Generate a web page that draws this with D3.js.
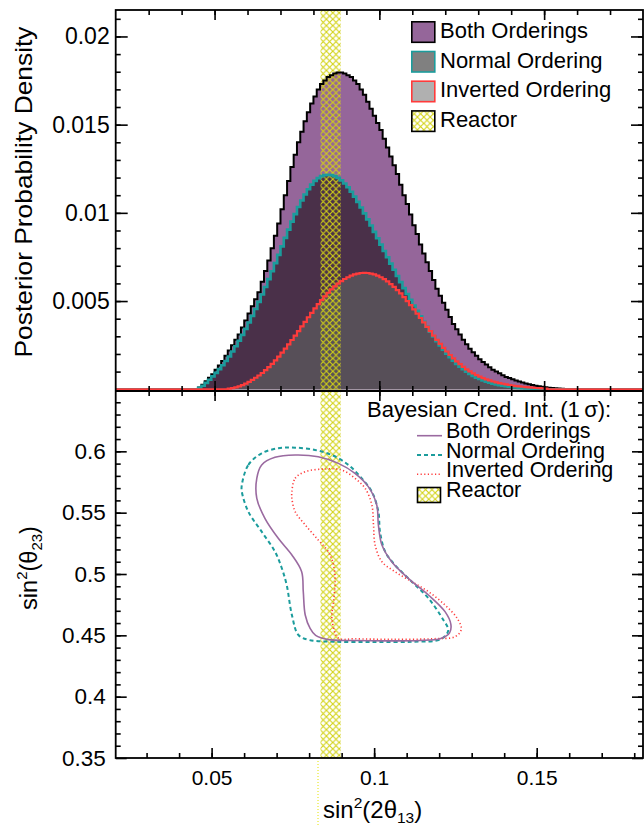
<!DOCTYPE html>
<html>
<head>
<meta charset="utf-8">
<script src="https://cdn.jsdelivr.net/npm/d3@7"></script>
<style>
  body { margin: 0; background: #fff; }
  svg { display: block; font-family: "Liberation Sans", Arial, Helvetica, sans-serif; }
</style>
</head>
<body>
<script>
// posterior density of sin^2(2theta13), bins of width 0.001 starting at 0.045
// values are in units of 1e-4
const binStart = 0.045,
  binWidth = 0.001;

const bothOrderings = [
  1, 2.5, 4.5, 6.5, 8.5, 11, 13.5, 16, 19, 22, 25, 28, 31, 35, 39, 43, 47, 51, 55, 61,
  67, 73, 80, 87, 94, 102, 110, 118, 126, 133, 140, 146, 152, 157, 162, 166, 170, 173, 175, 177,
  178, 179, 179.5, 179.5, 179, 178, 177, 175, 173, 170, 167, 163, 159, 155, 151, 147, 142, 137, 132, 127,
  122, 116, 110, 105, 99, 93, 88, 82, 77, 72, 67, 62, 57, 53, 49, 45, 41, 37, 34, 31,
  28, 25.5, 23, 21, 19, 17, 15.5, 14, 12.5, 11, 10, 9, 8, 7, 6.3, 5.6, 5, 4.4, 3.8, 3.3,
  2.8, 2.4, 2, 1.7, 1.4, 1.1, 0.9, 0.7, 0.5, 0.4, 0.3
];

const normalOrdering = [
  0.8, 2, 3.6, 5.4, 7.3, 9.3, 11.4, 13.6, 16, 18.6, 21.4, 24.4, 27.5, 30.8, 34.2, 37.8, 41.6, 45.5, 49.5, 53.7,
  58, 62.4, 66.9, 71.5, 76.2, 81, 85.8, 90.5, 95, 99.3, 103.3, 107, 110.4, 113.4, 116, 118.1, 119.7, 120.8, 121.4, 121.6,
  121.4, 120.8, 119.8, 118.4, 116.6, 114.5, 112, 109.2, 106.2, 103, 99.7, 96.3, 92.8, 89.2, 85.6, 82, 78.4, 74.8, 71.2, 67.7,
  64.2, 60.7, 57.3, 54, 50.7, 47.5, 44.4, 41.3, 38.3, 35.4, 32.6, 29.9, 27.3, 24.8, 22.4, 20.2, 18.1, 16.2, 14.4, 12.8,
  11.3, 9.9, 8.7, 7.6, 6.6, 5.8, 5, 4.3, 3.7, 3.2, 2.7, 2.3, 2, 1.7, 1.4, 1.2, 1, 0.8, 0.6, 0.5, 0.4
];

const invertedOrdering = [
  0, 0, 0, 0, 0, 0, 0, 0, 0, 0.3, 0.6, 1, 1.6, 2.3, 3.2, 4.2, 5.3, 6.5, 7.8, 9.2,
  10.8, 12.5, 14.4, 16.4, 18.5, 20.7, 23, 25.4, 27.9, 30.4, 33, 35.6, 38.2, 40.8, 43.3, 45.8, 48.2, 50.5, 52.7, 54.7,
  56.6, 58.3, 59.9, 61.3, 62.5, 63.5, 64.4, 65.1, 65.6, 65.9, 66, 65.9, 65.6, 65.1, 64.4, 63.5, 62.4, 61.1, 59.6, 58,
  56.2, 54.3, 52.2, 50, 47.7, 45.3, 42.9, 40.4, 37.9, 35.4, 32.9, 30.4, 28, 25.7, 23.5, 21.4, 19.4, 17.5, 15.8, 14.2,
  12.7, 11.3, 10.1, 9, 8, 7.1, 6.3, 5.6, 5, 4.4, 3.9, 3.5, 3.1, 2.7, 2.4, 2.1, 1.8, 1.6, 1.4, 1.2,
  1, 0.9, 0.7, 0.6, 0.5, 0.4
];

// 1 sigma credible regions, [sin^2(2theta13), sin^2(theta23)]
const bothContour = [
  [0.0639, 0.578], [0.0654, 0.5889], [0.0695, 0.5951], [0.0757, 0.597], [0.0828, 0.5956], [0.089, 0.5902],
  [0.0941, 0.5821], [0.0982, 0.5712], [0.1008, 0.5563], [0.1013, 0.54], [0.1024, 0.5236], [0.1054, 0.51],
  [0.1105, 0.4965], [0.1167, 0.4829], [0.1218, 0.4693], [0.1236, 0.459], [0.1232, 0.452], [0.1205, 0.4475],
  [0.114, 0.4458], [0.104, 0.4455], [0.094, 0.4458], [0.086, 0.4465], [0.082, 0.45], [0.0803, 0.4557],
  [0.0788, 0.4666], [0.0782, 0.4856], [0.0777, 0.5019], [0.0747, 0.5155], [0.0705, 0.5291], [0.0664, 0.5454],
  [0.0639, 0.5617]
];

const normalContour = [
  [0.0593, 0.5726], [0.0613, 0.5889], [0.0654, 0.5984], [0.0705, 0.6025], [0.0757, 0.603], [0.0818, 0.6011],
  [0.087, 0.597], [0.0921, 0.5889], [0.0962, 0.578], [0.0993, 0.5671], [0.1013, 0.5508], [0.1018, 0.5345],
  [0.1034, 0.5182], [0.1064, 0.5073], [0.1116, 0.4937], [0.1167, 0.4802], [0.1213, 0.4625], [0.1228, 0.454],
  [0.1205, 0.4468], [0.112, 0.4448], [0.1, 0.4445], [0.088, 0.4448], [0.08, 0.4462], [0.0767, 0.4503],
  [0.0747, 0.4666], [0.0731, 0.491], [0.0716, 0.5047], [0.0695, 0.5182], [0.0654, 0.5345], [0.0613, 0.5508],
  [0.0593, 0.5671]
];

const invertedContour = [
  [0.0747, 0.5671], [0.0757, 0.578], [0.0788, 0.5834], [0.0849, 0.5856], [0.09, 0.5848], [0.0941, 0.578],
  [0.0972, 0.5699], [0.0993, 0.5563], [0.0998, 0.54], [0.1003, 0.5236], [0.1024, 0.51], [0.1064, 0.5019],
  [0.1116, 0.4937], [0.1167, 0.4856], [0.1218, 0.4747], [0.1255, 0.464], [0.1268, 0.455], [0.125, 0.449],
  [0.118, 0.4472], [0.105, 0.4468], [0.094, 0.4472], [0.089, 0.4478], [0.087, 0.4639], [0.0875, 0.4774],
  [0.088, 0.4937], [0.0875, 0.5073], [0.0859, 0.5182], [0.0828, 0.5277], [0.0788, 0.54], [0.0757, 0.5508],
  [0.0747, 0.5617]
];

// reactor constraint on sin^2(2theta13)
const reactorBand = [0.0835, 0.0897];

const densityTicks = [0.005, 0.01, 0.015, 0.02];
const densityLabels = ["0.005", "0.01", "0.015", "0.02"];
const theta23Ticks = [0.35, 0.4, 0.45, 0.5, 0.55, 0.6];
const theta23Labels = ["0.35", "0.4", "0.45", "0.5", "0.55", "0.6"];
const theta13Ticks = [0.05, 0.1, 0.15];
const theta13Labels = ["0.05", "0.1", "0.15"];

const topLegend = ["Both Orderings", "Normal Ordering", "Inverted Ordering", "Reactor"];
const bottomLegend = ["Both Orderings", "Normal Ordering", "Inverted Ordering", "Reactor"];

const width = 644,
  height = 827,
  pL = 115.7,
  pR = 643,
  pT = 10,
  pM = 391,
  pB = 758;

const colors = {
  both: "#95669a",
  normalFill: "#4a3049",
  invertedFill: "#574f58",
  teal: "#1b9c9c",
  red: "#ff3b3b",
  purpleLine: "#9a6aa0",
  yellow: "#d2d214"
};

const svg = d3
  .select("body")
  .append("svg")
  .attr("width", width)
  .attr("height", height);

const defs = svg.append("defs");

const hatch = defs
  .append("pattern")
  .attr("id", "hatch")
  .attr("patternUnits", "userSpaceOnUse")
  .attr("width", 6.4)
  .attr("height", 6.4);
hatch
  .append("path")
  .attr("d", "M0,0L6.4,6.4M6.4,0L0,6.4")
  .attr("stroke", colors.yellow)
  .attr("stroke-width", 1.1);

defs
  .append("clipPath")
  .attr("id", "clipTop")
  .append("rect")
  .attr("x", pL)
  .attr("y", pT)
  .attr("width", pR - pL)
  .attr("height", pM - pT);

defs
  .append("clipPath")
  .attr("id", "clipBottom")
  .append("rect")
  .attr("x", pL)
  .attr("y", pM)
  .attr("width", pR - pL)
  .attr("height", pB - pM);

const xTop = d3.scaleLinear().domain([0.02, 0.18]).range([pL, pR]);
const yTop = d3.scaleLinear().domain([-0.0001, 0.0215]).range([pM, pT]);
const xBot = d3.scaleLinear().domain([0.0205, 0.1827]).range([pL, pR]);
const yBot = d3.scaleLinear().domain([0.35, 0.65]).range([pB, 390]);

// ---------- top panel: histograms ----------
const stepPoints = vals => {
  const pts = [[xTop.domain()[0], 0]];
  vals.forEach((v, i) => pts.push([binStart + i * binWidth, v * 1e-4]));
  pts.push([binStart + vals.length * binWidth, 0]);
  pts.push([xTop.domain()[1], 0]);
  return pts;
};

const area = d3
  .area()
  .x(d => xTop(d[0]))
  .y0(yTop(0))
  .y1(d => yTop(d[1]))
  .curve(d3.curveStepAfter);

const stepLine = d3
  .line()
  .x(d => xTop(d[0]))
  .y(d => yTop(d[1]))
  .curve(d3.curveStepAfter);

const hists = [
  { vals: bothOrderings, fill: colors.both, stroke: "#000", sw: 2 },
  { vals: normalOrdering, fill: colors.normalFill, stroke: colors.teal, sw: 2.6 },
  { vals: invertedOrdering, fill: colors.invertedFill, stroke: colors.red, sw: 2.2 }
];

const topG = svg.append("g").attr("clip-path", "url(#clipTop)");

topG
  .selectAll("path.fill")
  .data(hists)
  .enter()
  .append("path")
  .attr("class", "fill")
  .attr("d", d => area(stepPoints(d.vals)))
  .attr("fill", d => d.fill);

// reactor band across both panels
svg
  .append("rect")
  .attr("x", xBot(reactorBand[0]))
  .attr("y", pT)
  .attr("width", xBot(reactorBand[1]) - xBot(reactorBand[0]))
  .attr("height", pB - pT)
  .attr("fill", "url(#hatch)");

svg
  .append("line")
  .attr("x1", xBot(reactorBand[0]) - 2.5)
  .attr("x2", xBot(reactorBand[0]) - 2.5)
  .attr("y1", pB)
  .attr("y2", height)
  .attr("stroke", "#e4e400")
  .attr("stroke-width", 1)
  .attr("stroke-dasharray", "1,2");

const topLines = svg.append("g").attr("clip-path", "url(#clipTop)");
topLines
  .selectAll("path")
  .data(hists)
  .enter()
  .append("path")
  .attr("d", d => stepLine(stepPoints(d.vals)))
  .attr("fill", "none")
  .attr("stroke", d => d.stroke)
  .attr("stroke-width", d => d.sw);

// ---------- bottom panel: contours ----------
const contourLine = d3
  .line()
  .x(d => xBot(d[0]))
  .y(d => yBot(d[1]))
  .curve(d3.curveCatmullRomClosed.alpha(0.5));

const contours = [
  { pts: normalContour, stroke: colors.teal, sw: 2, dash: "4,3" },
  { pts: invertedContour, stroke: colors.red, sw: 1.6, dash: "1.2,2.4" },
  { pts: bothContour, stroke: colors.purpleLine, sw: 1.6, dash: null }
];

svg
  .append("g")
  .attr("clip-path", "url(#clipBottom)")
  .selectAll("path")
  .data(contours)
  .enter()
  .append("path")
  .attr("d", d => contourLine(d.pts))
  .attr("fill", "none")
  .attr("stroke", d => d.stroke)
  .attr("stroke-width", d => d.sw)
  .attr("stroke-dasharray", d => d.dash);

// ---------- axes ----------
const range = (a, b, s) => d3.range(Math.round(a / s), Math.round(b / s) + 1).map(i => +(i * s).toFixed(4));

const tickGroup = (axis, x, y) =>
  svg
    .append("g")
    .attr("transform", `translate(${x},${y})`)
    .call(axis)
    .attr("font-family", null)
    .call(g => g.select(".domain").remove())
    .call(g => g.selectAll("line").attr("stroke", "#000").attr("stroke-width", 1.6));

const styleLabels = size => g =>
  g.selectAll("text").attr("font-size", size + "px").attr("fill", "#000");

// top panel y
tickGroup(
  d3.axisLeft(yTop).tickValues(densityTicks).tickSize(-12).tickPadding(6)
    .tickFormat((d, i) => densityLabels[i]),
  pL, 0
).call(styleLabels(23));
tickGroup(d3.axisLeft(yTop).tickValues(range(0.001, 0.021, 0.001)).tickSize(-5).tickFormat(""), pL, 0);
tickGroup(d3.axisRight(yTop).tickValues(densityTicks).tickSize(-12).tickFormat(""), pR, 0);
tickGroup(d3.axisRight(yTop).tickValues(range(0.001, 0.021, 0.001)).tickSize(-5).tickFormat(""), pR, 0);

// top panel x, top edge and shared edge
tickGroup(d3.axisTop(xTop).tickValues([0.05, 0.1, 0.15]).tickSize(-10).tickFormat(""), 0, pT);
tickGroup(d3.axisTop(xTop).tickValues(range(0.03, 0.17, 0.01)).tickSize(-5).tickFormat(""), 0, pT);
tickGroup(d3.axisBottom(xTop).tickValues([0.05, 0.1, 0.15]).tickSize(-10).tickFormat(""), 0, pM);
tickGroup(d3.axisBottom(xTop).tickValues(range(0.03, 0.17, 0.01)).tickSize(-5).tickFormat(""), 0, pM);
tickGroup(d3.axisTop(xTop).tickValues([0.05, 0.1, 0.15]).tickSize(-10).tickFormat(""), 0, pM);
tickGroup(d3.axisTop(xTop).tickValues(range(0.03, 0.17, 0.01)).tickSize(-5).tickFormat(""), 0, pM);

// bottom panel y
tickGroup(
  d3.axisLeft(yBot).tickValues(theta23Ticks).tickSize(-11).tickPadding(10)
    .tickFormat((d, i) => theta23Labels[i]),
  pL, 0
).call(styleLabels(22.5));
tickGroup(d3.axisLeft(yBot).tickValues(range(0.36, 0.64, 0.01)).tickSize(-5).tickFormat(""), pL, 0);
tickGroup(d3.axisRight(yBot).tickValues(theta23Ticks).tickSize(-11).tickFormat(""), pR, 0);
tickGroup(d3.axisRight(yBot).tickValues(range(0.36, 0.64, 0.01)).tickSize(-5).tickFormat(""), pR, 0);

// bottom panel x
tickGroup(
  d3.axisBottom(xBot).tickValues(theta13Ticks).tickSize(-10).tickPadding(12)
    .tickFormat((d, i) => theta13Labels[i]),
  0, pB
).call(styleLabels(21));
tickGroup(d3.axisBottom(xBot).tickValues(range(0.03, 0.18, 0.01)).tickSize(-5).tickFormat(""), 0, pB);

// frames
svg
  .append("rect")
  .attr("x", pL)
  .attr("y", pT)
  .attr("width", pR - pL)
  .attr("height", pB - pT)
  .attr("fill", "none")
  .attr("stroke", "#000")
  .attr("stroke-width", 1.8);
svg
  .append("line")
  .attr("x1", pL)
  .attr("x2", pR)
  .attr("y1", pM)
  .attr("y2", pM)
  .attr("stroke", "#000")
  .attr("stroke-width", 1.8);

// ---------- axis titles ----------
svg
  .append("text")
  .attr("transform", "translate(32,192) rotate(-90)")
  .attr("text-anchor", "middle")
  .attr("font-size", "24px")
  .attr("textLength", 331)
  .attr("lengthAdjust", "spacingAndGlyphs")
  .text("Posterior Probability Density");

const yTitle = svg
  .append("text")
  .attr("transform", "translate(37,568) rotate(-90)")
  .attr("text-anchor", "middle")
  .attr("font-size", "23.5px");
yTitle.append("tspan").text("sin");
yTitle.append("tspan").attr("font-size", "15px").attr("dy", -10).text("2");
yTitle.append("tspan").attr("dy", 10).text("(θ");
yTitle.append("tspan").attr("font-size", "15px").attr("dy", 5).text("23");
yTitle.append("tspan").attr("dy", -5).text(")");

const xTitle = svg
  .append("text")
  .attr("x", 323)
  .attr("y", 818)
  .attr("font-size", "24px");
xTitle.append("tspan").text("sin");
xTitle.append("tspan").attr("font-size", "15.5px").attr("dy", -10).text("2");
xTitle.append("tspan").attr("dy", 10).text("(2θ");
xTitle.append("tspan").attr("font-size", "15.5px").attr("dy", 5).text("13");
xTitle.append("tspan").attr("dy", -5).text(")");

// ---------- legends ----------
const topBoxes = [
  { fill: colors.both, stroke: "#000" },
  { fill: "#808080", stroke: colors.teal },
  { fill: "#b0b0b0", stroke: colors.red },
  { fill: "url(#hatch)", stroke: "#000" }
];

const tl = svg.append("g").attr("transform", "translate(411,21)");
tl.selectAll("rect")
  .data(topBoxes)
  .enter()
  .append("rect")
  .attr("x", 0.8)
  .attr("y", (d, i) => i * 29.7 + 0.8)
  .attr("width", 23)
  .attr("height", 20.5)
  .attr("fill", d => d.fill)
  .attr("stroke", d => d.stroke)
  .attr("stroke-width", 1.6);
tl.selectAll("text")
  .data(topLegend)
  .enter()
  .append("text")
  .attr("x", 29)
  .attr("y", (d, i) => 17 + i * 29.5)
  .attr("font-size", "22px")
  .text(d => d);

const bl = svg.append("g");
bl.append("text")
  .attr("x", 367)
  .attr("y", 416.5)
  .attr("font-size", "22px")
  .text("Bayesian Cred. Int. (1\u2009σ):");

const blItems = [
  { stroke: colors.purpleLine, dash: null, sw: 1.6 },
  { stroke: colors.teal, dash: "4,3", sw: 2 },
  { stroke: colors.red, dash: "1.2,2.4", sw: 1.6 }
];
blItems.forEach((d, i) => {
  bl.append("line")
    .attr("x1", 417)
    .attr("x2", 442)
    .attr("y1", 435.7 + i * 19.3)
    .attr("y2", 435.7 + i * 19.3)
    .attr("stroke", d.stroke)
    .attr("stroke-width", d.sw)
    .attr("stroke-dasharray", d.dash);
});
bl.append("rect")
  .attr("x", 417.5)
  .attr("y", 487.5)
  .attr("width", 23)
  .attr("height", 15)
  .attr("fill", "url(#hatch)")
  .attr("stroke", "#000")
  .attr("stroke-width", 1.6);
bl.selectAll("text.item")
  .data(bottomLegend)
  .enter()
  .append("text")
  .attr("class", "item")
  .attr("x", 446)
  .attr("y", (d, i) => 438.3 + i * 19.5)
  .attr("font-size", "21.5px")
  .text(d => d);
</script>
</body>
</html>
